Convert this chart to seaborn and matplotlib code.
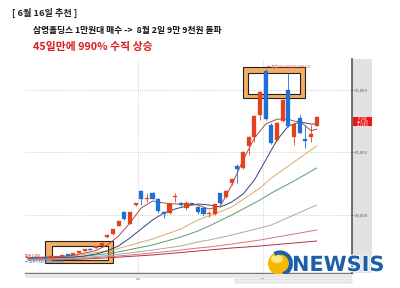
import numpy as np
import pandas as pd
import matplotlib
matplotlib.use('Agg')
import matplotlib.pyplot as plt
import seaborn as sns
from matplotlib.path import Path
from matplotlib.patches import PathPatch, Rectangle, Circle, Arc, Ellipse
import matplotlib.patheffects as pe

# ---------------- data (won) ----------------
opens = [9360, 9840, 9360, 9840, 9600, 9840, 10320, 11040, 11040, 11760,
         12720, 13680, 14160, 15120, 19440, 20880, 24720, 31440, 25680, 34800,
         41520, 37440, 40560, 37680, 31440, 30960, 38400, 35760, 33360, 35760,
         33840, 33360, 30240, 30480, 40560, 38640, 45360, 53520, 52560, 63120,
         67440, 78000, 99000, 73200, 66000, 75120, 90000, 67440, 76560, 66480,
         67440, 72720]
closes = [9840, 9360, 9840, 9400, 10080, 10320, 10800, 10560, 11520, 12720,
          13680, 13200, 15120, 16560, 20400, 23280, 27120, 28080, 31440, 35760,
          37680, 37920, 37680, 31920, 30480, 35280, 38880, 34800, 35760, 35040,
          31440, 30480, 30720, 35280, 35760, 41520, 47280, 52080, 60240, 67440,
          77520, 89040, 76080, 64560, 74160, 85200, 72720, 73680, 69360, 65520,
          68880, 77040]
highs = [10000, 9900, 9900, 9900, 10150, 10400, 10900, 11200, 11600, 12800,
         13800, 14000, 15300, 16800, 21000, 23400, 27200, 31800, 31600, 36000,
         41800, 40560, 41000, 38000, 31700, 35500, 40560, 36200, 36800, 36000,
         34200, 33800, 31900, 35500, 40800, 41800, 47500, 54480, 60500, 67800,
         77800, 89300, 99900, 74000, 74500, 85500, 98160, 74000, 78000, 73200,
         73200, 77300]
lows = [9300, 9300, 9300, 9300, 9550, 9800, 10250, 10500, 11000, 11700,
        12650, 13100, 14000, 15000, 19000, 20500, 24500, 27800, 25500, 34500,
        35000, 36240, 37500, 30960, 28560, 30500, 36240, 34500, 32400, 34800,
        30500, 29500, 29000, 30200, 35500, 38400, 44500, 45360, 52000, 58800,
        65040, 75600, 75800, 64000, 65500, 74800, 72000, 63600, 69000, 62160,
        65040, 72500]

ma5_idx = [0, 5, 8, 10, 12, 14, 16, 18, 20, 22, 24, 26, 28, 30, 32, 34, 36,
           38, 40, 42, 44, 46, 47, 48, 50, 51]
ma5 = [9600, 9840, 10656, 11760, 12960, 15600, 19920, 26160, 33360, 36720,
       35760, 35280, 35280, 34800, 32880, 34320, 44400, 56400, 66960, 73680,
       76000, 76000, 75000, 75000, 70500, 71200]

ma10_idx = [0, 5, 8, 10, 12, 14, 16, 18, 20, 22, 24, 26, 28, 30, 32, 34, 36,
            38, 40, 42, 44, 46, 48, 50, 51]
ma10 = [9360, 9600, 9840, 10320, 11280, 12720, 15120, 18960, 23280, 27600,
        30960, 32880, 34320, 35280, 34800, 33840, 36240, 40080, 46800, 56400,
        66000, 72720, 74640, 73680, 73680]

long_idx = [0, 8, 15, 22, 27, 30, 32, 36, 41, 43, 47, 51]
ma20 = [9360, 10320, 13200, 18480, 23280, 27600, 29520, 33840, 42960, 47760, 55440, 63120]
ma60 = [9120, 9600, 11760, 15600, 19440, 22320, 24720, 30000, 37200, 40560, 46320, 52560]
ma120 = [8880, 9120, 10800, 13200, 15120, 17040, 18000, 20400, 23760, 25200, 30000, 34800]
ma200 = [8640, 8880, 10080, 11760, 13200, 14160, 14640, 16080, 18000, 18960, 20880, 22800]
ma240 = [8400, 8640, 9600, 10800, 12000, 12720, 13200, 14160, 15120, 15600, 16560, 17520]

ytick_vals = [30000, 60000, 90000]
ytick_labels = ['30,000', '60,000', '90,000']
month_pos = [19.5, 41.5]
month_labels = ['07', '08']

title1 = '[ 6월 16일 추천 ]'
title2 = '삼영홀딩스 1만원대 매수 ->  8월 2일 9만 9천원 돌파'
title3 = '45일만에 990% 수직 상승'

# ---------------- figure ----------------
sns.set_theme(style='white')
plt.rcParams['font.family'] = ['Noto Sans CJK KR', 'DejaVu Sans']

W, H = 400, 288
fig = plt.figure(figsize=(W / 100, H / 100), dpi=100)
fig.patch.set_facecolor('white')

def fr(x0, y0, x1, y1):
    return [x0 / W, 1 - y1 / H, (x1 - x0) / W, (y1 - y0) / H]

YLIM = (2160, 104880)
XLIM = (-0.53, 57.24)

ax = fig.add_axes(fr(25, 59, 352, 273))
ax.set_xlim(*XLIM)
ax.set_ylim(*YLIM)
ax.set_facecolor('white')
for s in ['left', 'top', 'right']:
    ax.spines[s].set_visible(False)
ax.spines['bottom'].set_color('#777777')
ax.spines['bottom'].set_linewidth(1.0)
ax.set_yticks([])
ax.set_xticks(month_pos)
ax.set_xticklabels(month_labels, fontsize=3.5, color='#555555')
ax.tick_params(axis='x', length=1.5, pad=0.5, width=0.5, colors='#555555')

# grid
ax.hlines(ytick_vals, XLIM[0], XLIM[1], colors='#c4c4c4', linestyles=(0, (1, 1.5)), lw=0.6, zorder=0)
ax.vlines(month_pos, YLIM[0], YLIM[1], colors='#c4c4c4', linestyles=(0, (1, 1.5)), lw=0.6, zorder=0)

# orange highlight boxes (frame bands)
def band(ax, outer, inner):
    (ox0, oy0, ox1, oy1), (ix0, iy0, ix1, iy1) = outer, inner
    verts = [(ox0, oy0), (ox1, oy0), (ox1, oy1), (ox0, oy1), (ox0, oy0),
             (ix0, iy0), (ix0, iy1), (ix1, iy1), (ix1, iy0), (ix0, iy0)]
    codes = [Path.MOVETO, Path.LINETO, Path.LINETO, Path.LINETO, Path.CLOSEPOLY] * 2
    ax.add_patch(PathPatch(Path(verts, codes), facecolor='#f5ad62', edgecolor='#222222',
                           lw=0.8, zorder=1, clip_on=False))

band(ax, (37.99, 86160, 48.9, 101040), (38.87, 88080, 48.06, 98160))
band(ax, (3.0, 6816, 15.0, 17520), (4.19, 8400, 14.19, 15264))

# moving averages
line_specs = [
    (long_idx, ma240, '#b0304a'),
    (long_idx, ma200, '#e07272'),
    (long_idx, ma120, '#a9a9a9'),
    (long_idx, ma60, '#5c9c6c'),
    (long_idx, ma20, '#dcaa6a'),
    (ma10_idx, ma10, '#34447f'),
    (ma5_idx, ma5, '#b24a44'),
]
for xi, yi, col in line_specs:
    sns.lineplot(x=xi, y=yi, ax=ax, color=col, lw=0.7, zorder=2)

# candles
o = np.array(opens, float)
c = np.array(closes, float)
hi = np.array(highs, float)
lo = np.array(lows, float)
xs = np.arange(len(o))
cols = np.where(c >= o, '#e2431d', '#1f6fd8')
ax.vlines(xs, lo, hi, colors=cols, lw=0.6, zorder=3)
body = np.maximum(np.abs(c - o), 500)
ax.bar(xs, body, bottom=np.minimum(o, c), width=0.72, color=cols, edgecolor=cols,
       lw=0.2, zorder=4)

# tiny in-chart labels
ax.text(42.3, 101200, '← 최고 99,900(2010/08/02)', fontsize=2.6, color='#e05a5a',
        va='center', ha='left', zorder=5)
ax.text(-0.45, 10600, '최저 9,300', fontsize=2.4, color='#d03030', va='center', zorder=5)
ax.text(-0.45, 7900, '← 최저 9,300 (2010/06/03)', fontsize=2.4, color='#2f6fd0',
        va='center', zorder=5)

# right price panel
axr = fig.add_axes(fr(352, 59, 372, 273))
axr.set_facecolor('#e2e2e2')
axr.set_xlim(0, 1)
axr.set_ylim(*YLIM)
axr.set_xticks([])
axr.set_yticks([])
for s in ['top', 'right', 'bottom']:
    axr.spines[s].set_visible(False)
axr.spines['left'].set_color('#555555')
axr.spines['left'].set_linewidth(1.2)
for v, lab in zip(ytick_vals, ytick_labels):
    axr.hlines(v, 0, 0.12, colors='#777777', lw=0.5)
    axr.text(0.16, v, lab, fontsize=3, color='#555555', va='center', ha='left')
axr.add_patch(Rectangle((0.05, 72600), 0.95, 4500, facecolor='#ee1515', edgecolor='none'))
axr.text(0.55, 76300, '77,040', fontsize=2.2, color='white', ha='center', va='center')
axr.text(0.55, 74850, '▲ 8,160', fontsize=2.2, color='white', ha='center', va='center')
axr.text(0.55, 73400, '+11.84%', fontsize=2.2, color='white', ha='center', va='center')

# bottom scroll strip
fig.patches.append(Rectangle((25 / W, 1 - 278 / H), 327 / W, 4 / H, transform=fig.transFigure,
                             facecolor='#e8e8e8', edgecolor='none', zorder=0))
fig.patches.append(Rectangle((235 / W, 1 - 283 / H), 117 / W, 4 / H, transform=fig.transFigure,
                             facecolor='#eeeeee', edgecolor='#bbbbbb', lw=0.3, zorder=0))

# titles
fig.text(12 / W, 1 - 13 / H, title1, fontsize=6.6, weight='bold', color='#222222', va='center')
fig.text(33 / W, 1 - 30 / H, title2, fontsize=6.3, weight='bold', color='#111111', va='center')
fig.text(33 / W, 1 - 47 / H, title3, fontsize=7.8, weight='bold', color='#d81e1e', va='center')

# NEWSIS logo
axl = fig.add_axes(fr(262, 248, 392, 280))
axl.set_xlim(262, 392)
axl.set_ylim(280, 248)
axl.set_aspect('equal')
axl.axis('off')
axl.patch.set_alpha(0)
axl.add_patch(Circle((280, 263.5), 12, facecolor='#f5b800', edgecolor='none'))
axl.add_patch(Ellipse((277, 259), 12, 8, facecolor='#fff3a0', edgecolor='none', alpha=0.8))
axl.add_patch(Arc((280, 263.5), 22, 22, theta1=-120, theta2=75, color='#1b5fae', lw=3.0))
axl.text(292, 265, 'NEWSIS', fontsize=15, weight='bold', color='#1b5fa8',
         family='DejaVu Sans', va='center', ha='left',
         path_effects=[pe.withStroke(linewidth=1.5, foreground='white')])

fig.savefig('out.png', dpi=100, facecolor='white')
